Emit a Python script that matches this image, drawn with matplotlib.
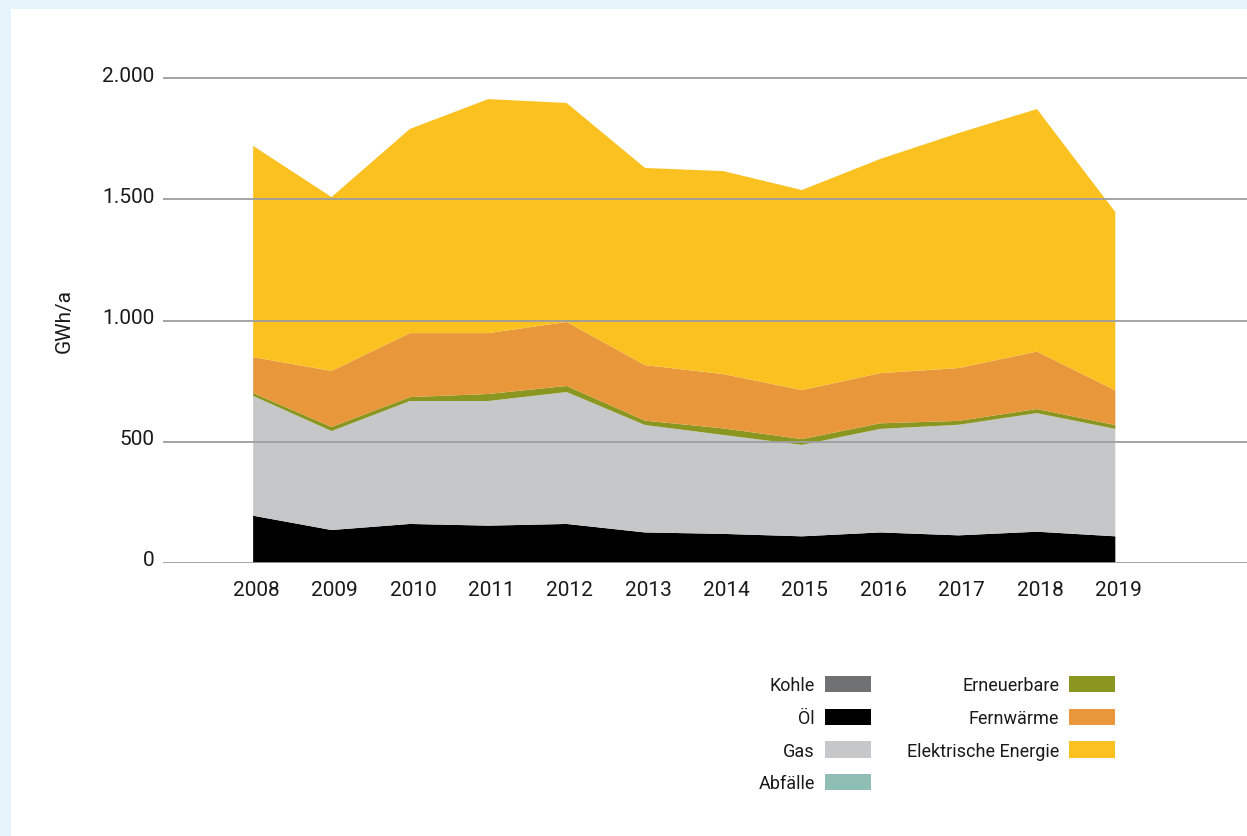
import matplotlib
matplotlib.use("Agg")
import matplotlib.pyplot as plt
import matplotlib.patches as mpatches
from matplotlib.ticker import FuncFormatter
from matplotlib.transforms import ScaledTranslation

plt.rcParams['font.family'] = ['Roboto', 'DejaVu Sans']

# ── data (GWh/a) ──────────────────────────────────────────────────────────────
years = [2008, 2009, 2010, 2011, 2012, 2013, 2014, 2015, 2016, 2017, 2018, 2019]

kohle       = [0, 0, 0, 0, 0, 0, 0, 0, 0, 0, 0, 0]
oel         = [195, 136, 161, 154, 161, 126, 120, 110, 126, 114, 129, 110]
gas         = [494, 408, 507, 514, 544, 443, 408, 377, 427, 456, 489, 443]
abfaelle    = [0, 0, 0, 0, 0, 0, 0, 0, 0, 0, 0, 0]
erneuerbare = [12, 17, 16, 29, 25, 18, 27, 24, 23, 16, 17, 16]
fernwaerme  = [148, 231, 264, 251, 264, 229, 224, 202, 207, 218, 237, 143]
elektrisch  = [871, 717, 842, 965, 903, 813, 837, 825, 883, 969, 1000, 735]

labels = ['Kohle', 'Öl', 'Gas', 'Abfälle', 'Erneuerbare', 'Fernwärme',
          'Elektrische Energie']
colors = ['#707173', '#000000', '#c6c7c9', '#8fbfb4', '#8a961f', '#e8983b',
          '#fbc120']

yticks = [0, 500, 1000, 1500, 2000]

# ── figure ────────────────────────────────────────────────────────────────────
W, H = 1247, 837
fig = plt.figure(figsize=(W / 100, H / 100), dpi=100)
fig.patch.set_facecolor('#e5f3fb')
fig.patches.append(mpatches.Rectangle((11 / W, 0), 1, 1 - 10 / H,
                                      transform=fig.transFigure,
                                      facecolor='white', edgecolor='none',
                                      zorder=0))

ymax = 2050
ax_bottom = 1 - 564 / H
ax_top = 1 - (564 - ymax * 0.2425) / H
ax = fig.add_axes([163 / W, ax_bottom, 1 - 163 / W, ax_top - ax_bottom])
ax.set_facecolor('none')
ax.set_zorder(2)

ax.stackplot(years, kohle, oel, gas, abfaelle, erneuerbare, fernwaerme,
             elektrisch, colors=colors, labels=labels, linewidth=0)

ax.set_xlim(2006.85, 2020.68)
ax.set_ylim(0, ymax)
ax.set_xticks(years)
ax.set_yticks(yticks)
ax.yaxis.set_major_formatter(
    FuncFormatter(lambda v, p: f'{int(v):,}'.replace(',', '.')))

ax.set_axisbelow(False)
ax.yaxis.grid(True, color='#9d9d9d', linewidth=1.3)
for s in ax.spines.values():
    s.set_visible(False)
ax.tick_params(axis='both', length=0, labelsize=15, colors='#1a1a1a')
ax.tick_params(axis='y', pad=6)
ax.tick_params(axis='x', pad=12)

# y tick labels sit slightly above their gridline
shift = ScaledTranslation(0, 0.05, fig.dpi_scale_trans)
for lab in ax.get_yticklabels():
    lab.set_transform(lab.get_transform() + shift)
shift_x = ScaledTranslation(0.03, 0, fig.dpi_scale_trans)
for lab in ax.get_xticklabels():
    lab.set_transform(lab.get_transform() + shift_x)

fig.text(64 / W, 1 - 321 / H, 'GWh/a', rotation=90, ha='center', va='center',
         fontsize=15, color='#1a1a1a')

# ── legend ────────────────────────────────────────────────────────────────────
handles, lbls = ax.get_legend_handles_labels()
leg = fig.legend(handles, lbls, ncol=2, markerfirst=False, frameon=False,
                 loc='upper right', bbox_to_anchor=(1115 / W, 1 - 677 / H),
                 fontsize=13, handlelength=2.55, handleheight=1.0,
                 handletextpad=0.55, columnspacing=2.0, labelspacing=0.8,
                 borderpad=0, borderaxespad=0, labelcolor='#1a1a1a')
leg.set_zorder(3)

plt.savefig('out.png', dpi=100)
